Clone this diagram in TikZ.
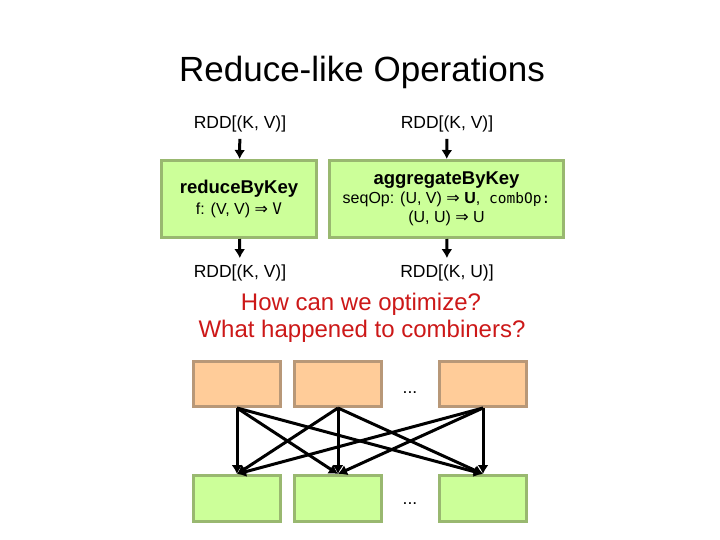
\documentclass[tikz,border=0pt]{standalone}
\usepackage{fontspec}
\setmainfont{Liberation Sans}
\setmonofont{DejaVu Sans Mono}
\newfontfamily\arrowfont{DejaVu Sans}
\usepackage{xcolor}
\usepackage{tikz}
\usetikzlibrary{positioning,arrows.meta}

\definecolor{opfill}{RGB}{204,255,153}
\definecolor{opline}{RGB}{153,184,112}
\definecolor{partfill}{RGB}{255,204,153}
\definecolor{partline}{RGB}{184,152,120}
\definecolor{askred}{RGB}{204,24,24}

\tikzset{
    rddlabel/.style={font=\fontsize{17.5}{20}\selectfont, inner sep=6pt, anchor=base},
    opbox/.style={draw=opline, fill=opfill, line width=3pt, align=center, font=\fontsize{16}{19}\selectfont},
    partbox/.style={draw=partline, fill=partfill, line width=3pt, minimum width=87, minimum height=45},
    redbox/.style={draw=opline, fill=opfill, line width=3pt, minimum width=87, minimum height=46},
    asktext/.style={font=\fontsize{24}{28}\selectfont, text=askred, anchor=base},
    flow/.style={->, black, line width=3pt},
}

\begin{document}
\begin{tikzpicture}[x=1pt, y=-1pt, >={Latex[length=9pt,width=11pt]}]
                \useasboundingbox (0,0) rectangle (720,540);
                \node[anchor=base, font=\fontsize{35}{40}\selectfont] (title) at (362,82) {Reduce-like Operations};

                \node[rddlabel] (inL) at (240,129) {RDD[(K, V)]};
                \node[rddlabel] (inR) at (447,129) {RDD[(K, V)]};

                \node[opbox, minimum width=155, minimum height=77] (reduce) at (239,199)
                    {{\bfseries\fontsize{18.5}{20}\selectfont reduceByKey}\\[2pt] f: (V, V) {\arrowfont ⇒} {\ttfamily V}};
                \node[opbox, minimum width=234, minimum height=77] (aggregate) at (446.5,199)
                    {{\bfseries\fontsize{18.5}{20}\selectfont aggregateByKey}\\ seqOp: (U, V) {\arrowfont ⇒} \textbf{U}, \ {\ttfamily\fontsize{14.5}{16}\selectfont combOp:}\\ (U, U) {\arrowfont ⇒} U};

                \node[rddlabel] (outL) at (240,277) {RDD[(K, V)]};
                \node[rddlabel] (outR) at (447,277) {RDD[(K, U)]};

                \draw[flow] (inL) -- (reduce);
                \draw[flow] (inR) -- (aggregate);
                \draw[flow] (reduce) -- (outL);
                \draw[flow] (aggregate) -- (outR);

                \node[asktext] (ask1) at (361,310) {How can we optimize?};
                \node[asktext] (ask2) at (362,337) {What happened to combiners?};

                % map side partitions
                \node[partbox] (p1) at (237,384) {};
                \node[partbox] (p2) at (338,384) {};
                \node[partbox] (p3) at (483,384) {};
                \node[rddlabel, inner sep=0pt] (pdots) at (410,393) {...};

                % reduce side partitions
                \node[redbox] (g1) at (237,498.5) {};
                \node[redbox] (g2) at (338,498.5) {};
                \node[redbox] (g3) at (483,498.5) {};
                \node[rddlabel, inner sep=0pt] (gdots) at (410,504) {...};

                \draw[flow] (p1.south) -- (g1.north);
                \draw[flow] (p1.south) -- (g2.north);
                \draw[flow] (p1.south) -- (g3.north);
                \draw[flow] (p2.south) -- (g1.north);
                \draw[flow] (p2.south) -- (g2.north);
                \draw[flow] (p2.south) -- (g3.north);
                \draw[flow] (p3.south) -- (g1.north);
                \draw[flow] (p3.south) -- (g2.north);
                \draw[flow] (p3.south) -- (g3.north);
\end{tikzpicture}
\end{document}
